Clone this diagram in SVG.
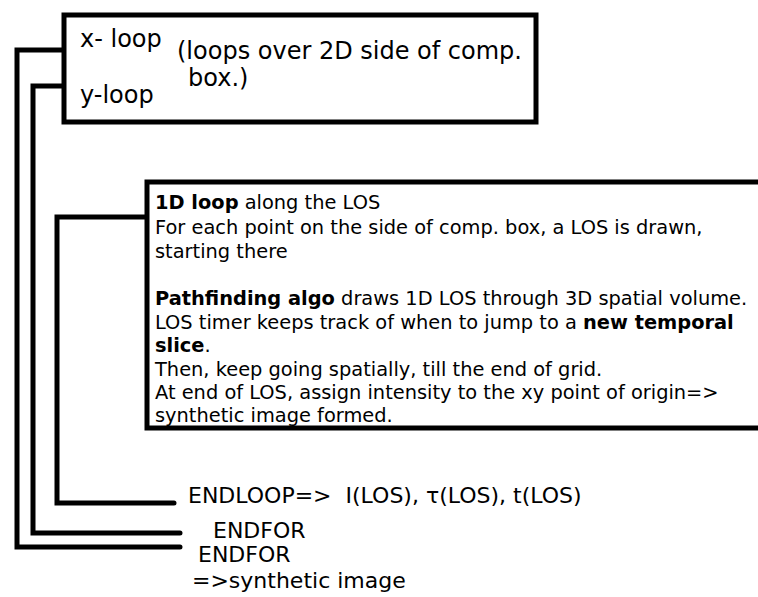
<svg xmlns="http://www.w3.org/2000/svg" width="758" height="597" viewBox="0 0 758 597">
<style>
.box{fill:#fff;stroke:#000;stroke-width:5}
.ln{fill:none;stroke:#000;stroke-width:5;stroke-linejoin:miter;stroke-linecap:round}
.t{font-family:"DejaVu Sans",sans-serif;font-size:22px;fill:#000}
.h{font-family:"DejaVu Sans",sans-serif;font-size:24px;fill:#000}
.c{font-family:"DejaVu Sans",sans-serif;font-size:19.4px;fill:#000}
.b{font-weight:bold}
</style>
<rect width="758" height="597" fill="#fff"/>
<g id="connectors">
<path class="ln" d="M64,50 H17 V547 H180"/>
<path class="ln" d="M64,86 H33 V533 H180"/>
<path class="ln" d="M147,217 H57 V503 H174"/>
</g>
<g id="xyloop">
<rect class="box" x="64" y="15" width="472" height="107"/>
<text class="h" x="80" y="47">x- loop</text>
<text class="h" x="80" y="103">y-loop</text>
<text class="h" x="177" y="59">(loops over 2D side of comp.</text>
<text class="h" x="188" y="86">box.)</text>
</g>
<g id="losloop">
<rect class="box" x="147" y="182" width="620" height="246"/>
<text class="c" x="155" y="209"><tspan class="b">1D loop</tspan> along the LOS</text>
<text class="c" x="155" y="234">For each point on the side of comp. box, a LOS is drawn,</text>
<text class="c" x="155" y="258">starting there</text>
<text class="c" x="155" y="305"><tspan class="b">Pathfinding algo</tspan> draws 1D LOS through 3D spatial volume.</text>
<text class="c" x="155" y="329">LOS timer keeps track of when to jump to a <tspan class="b">new temporal</tspan></text>
<text class="c" x="155" y="352"><tspan class="b">slice</tspan>.</text>
<text class="c" x="155" y="376">Then, keep going spatially, till the end of grid.</text>
<text class="c" x="155" y="399">At end of LOS, assign intensity to the xy point of origin=&gt;</text>
<text class="c" x="155" y="422">synthetic image formed.</text>
</g>
<g id="endloop">
<text class="t" x="188" y="503" xml:space="preserve">ENDLOOP=&gt;  I(LOS), τ(LOS), t(LOS)</text>
</g>
<g id="endfor1">
<text class="t" x="213" y="538">ENDFOR</text>
</g>
<g id="endfor2">
<text class="t" x="198" y="562">ENDFOR</text>
<text class="t" x="192" y="588">=&gt;synthetic image</text>
</g>
</svg>
